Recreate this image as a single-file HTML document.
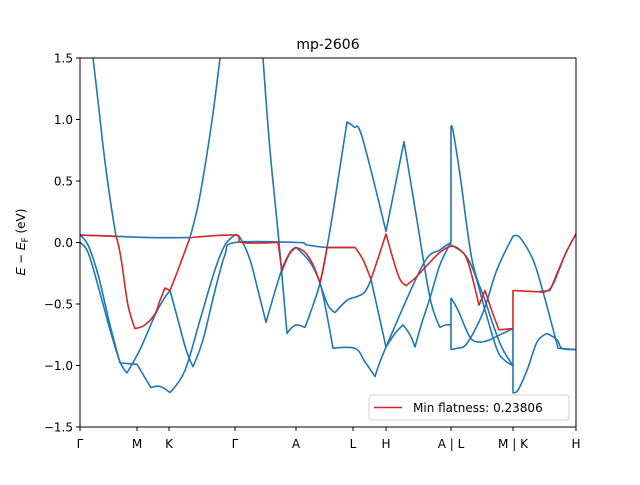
<!DOCTYPE html>
<html><head><meta charset="utf-8"><style>
body{margin:0;background:#fff;}
svg text{font-family:"DejaVu Sans","Liberation Sans",sans-serif;fill:#000;}
</style></head><body>
<svg id="chart" width="640" height="480" xmlns="http://www.w3.org/2000/svg">
<rect width="640" height="480" fill="#fff"/>
<text x="328" y="49" font-size="14" text-anchor="middle">mp-2606</text>
<g id="plot"></g>
<g id="axes"></g>
<text transform="translate(25,242) rotate(-90)" font-size="12" text-anchor="middle">𝐸 − 𝐸<tspan font-size="9" dy="3">F</tspan><tspan dy="-3"> (eV)</tspan></text>
<g>
<rect x="369" y="395" width="200" height="25" rx="3" fill="#fff" stroke="#ccc" stroke-width="1" opacity="0.9"/>
<line x1="374" y1="407.5" x2="402" y2="407.5" stroke="#d62728" stroke-width="1.5"/>
<text x="413" y="412" font-size="12">Min flatness: 0.23806</text>
</g>
</svg>
<script>
const kTicks=[0,57,89,155,216,273,306,371,433,496];
const kLabels=["Γ","M","K","Γ","A","L","H","A | L","M | K","H"];
const eTicks=[-1.5,-1.0,-0.5,0.0,0.5,1.0,1.5];
const eLabels=["−1.5","−1.0","−0.5","0.0","0.5","1.0","1.5"];
const flatBand=[[0,0.06],[36,0.05],[39,-0.04],[42,-0.18],[48,-0.51],[55,-0.70],[65,-0.67],[75,-0.58],[80,-0.47],[85,-0.37],[90,-0.39],[100,-0.18],[110,0.04],[155,0.06],[162,0.00],[198,0.00],[202,-0.23],[209,-0.10],[216,-0.04],[225,-0.08],[233,-0.18],[240,-0.33],[244,-0.18],[247,-0.04],[275,-0.04],[283,-0.14],[291,-0.30],[298,-0.13],[306,0.07],[314,-0.16],[320,-0.30],[326,-0.35],[335,-0.29],[350,-0.16],[360,-0.08],[371,-0.03],[380,-0.06],[388,-0.16],[399,-0.51],[405,-0.39],[412,-0.56],[419,-0.71],[433,-0.70],[433,-0.39],[457,-0.40],[465,-0.40],[473,-0.34],[485,-0.10],[496,0.07]];
const band1=[[0,0.06],[36,0.05]];
const band2=[[13,1.5],[19,1.08],[24,0.72],[30,0.36],[36,0.05]];
const band3=[[36,0.05],[70,0.04],[110,0.04]];
const band4=[[110,0.04],[118,0.3],[125,0.62],[133,1.05],[140,1.5]];
const band5=[[0,0.06],[8,-0.02],[18,-0.26],[30,-0.67],[40,-0.98],[57,-0.99],[65,-1.10],[71,-1.18],[80,-1.17],[90,-1.22],[105,-1.04],[120,-0.63],[135,-0.22],[145,-0.02],[155,0.06],[160,0.04],[170,-0.14],[178,-0.39],[186,-0.65],[201,-0.24],[210,-0.08],[216,-0.04]];
const band6=[[0,0],[8,-0.08],[18,-0.35],[30,-0.71],[40,-0.97],[47,-1.06],[60,-0.87],[75,-0.59],[83,-0.47],[90,-0.39],[98,-0.63],[106,-0.87],[113,-1.01],[123,-0.79],[135,-0.39],[145,-0.10],[155,0],[218,0],[227,-0.02],[247,-0.04],[275,-0.04]];
const band7=[[183,1.5],[190,0.75],[199,0],[207,-0.74],[212,-0.69],[217,-0.67],[225,-0.69],[233,-0.51],[240,-0.33],[247,-0.04],[255,0.35],[267,0.98],[274,0.94],[282,0.86],[306,0.09],[324,0.82],[337,0.18],[350,-0.45],[360,-0.69],[366,-0.67],[371,-0.67]];
const band8=[[216,-0.04],[230,-0.16],[240,-0.33],[246,-0.55],[253,-0.86],[275,-0.86],[285,-0.97],[295,-1.09],[306,-0.85],[343,-0.18],[360,-0.06],[371,0]];
const band9=[[240,-0.33],[248,-0.51],[255,-0.57],[267,-0.47],[277,-0.44],[285,-0.40],[291,-0.30],[306,-0.85],[315,-0.74],[323,-0.67],[330,-0.75],[335,-0.85],[342,-0.65],[350,-0.45],[360,-0.18],[371,0]];
const band10=[[371,0],[371,0.94],[373,0.91],[380,0.55],[392,-0.14],[405,-0.47],[420,-0.82],[433,-1.0]];
const band11=[[371,-0.45],[371,-0.87],[377,-0.86],[387,-0.82],[403,-0.57],[417,-0.22],[433,0.05],[440,0.04],[453,-0.14],[463,-0.40],[478,-0.86],[495,-0.87],[496,-0.87]];
const band12=[[371,-0.45],[378,-0.55],[390,-0.77],[400,-0.81],[410,-0.79],[420,-0.75],[433,-0.70],[433,-1.22],[438,-1.20],[447,-1.04],[457,-0.81],[467,-0.74],[477,-0.79],[482,-0.86],[496,-0.87]];
const band13=[[371,-0.02],[385,-0.10],[395,-0.26],[405,-0.55],[417,-0.87],[425,-0.96],[433,-1.0]];
const band14=[[458,-0.40],[470,-0.39],[485,-0.10],[496,0.07]];
const blueBands=[band1,band2,band3,band4,band5,band6,band7,band8,band9,band10,band11,band12,band13,band14];

const X0=80,X1=576,Y0=58,Y1=427,kMax=496,eMin=-1.5,eMax=1.5;
function xs(k){return X0+(k/kMax)*(X1-X0);}
function ys(e){return Y1-(e-eMin)/(eMax-eMin)*(Y1-Y0);}
const NS="http://www.w3.org/2000/svg";
const plot=document.getElementById('plot');
const axes=document.getElementById('axes');
const defs=document.createElementNS(NS,'defs');
defs.innerHTML='<clipPath id="clip"><rect x="80" y="58" width="496" height="369"/></clipPath>';
document.getElementById('chart').prepend(defs);
plot.setAttribute('clip-path','url(#clip)');
function isCorner(p0,p1,p2){
  const ax=p1[0]-p0[0],ay=p1[1]-p0[1],bx=p2[0]-p1[0],by=p2[1]-p1[1];
  const la=Math.hypot(ax,ay),lb=Math.hypot(bx,by);
  if(!la||!lb)return true;
  return (ax*bx+ay*by)/(la*lb)<Math.cos(55*Math.PI/180);
}
function tangent(pts,i){
  const p1=pts[i];
  if(i===0||i===pts.length-1)return [0,0];
  const p0=pts[i-1],p2=pts[i+1];
  if(isCorner(p0,p1,p2))return [0,0];
  return [(p2[0]-p0[0])/2,(p2[1]-p0[1])/2];
}
function smoothPiece(pts){
  let d='';
  const T=pts.map((p,i)=>tangent(pts,i));
  for(let i=0;i<pts.length-1;i++){
    const p1=pts[i],p2=pts[i+1];
    const c1=[p1[0]+T[i][0]/3,p1[1]+T[i][1]/3];
    const c2=[p2[0]-T[i+1][0]/3,p2[1]-T[i+1][1]/3];
    d+=' C'+c1[0].toFixed(1)+','+c1[1].toFixed(1)+' '+c2[0].toFixed(1)+','+c2[1].toFixed(1)+' '+p2[0].toFixed(1)+','+p2[1].toFixed(1);
  }
  return d;
}
function pathOf(b){
  const pts=b.map(p=>[xs(p[0]),ys(p[1])]);
  const pieces=[];let cur=[pts[0]];
  for(let i=1;i<pts.length;i++){
    if(Math.abs(pts[i][0]-pts[i-1][0])<0.01){pieces.push(cur);pieces.push([pts[i-1],pts[i]]);cur=[pts[i]];}
    else cur.push(pts[i]);
  }
  pieces.push(cur);
  let d='M'+pts[0][0].toFixed(1)+','+pts[0][1].toFixed(1);
  pieces.forEach(pc=>{if(pc.length>1)d+=smoothPiece(pc);});
  return d;
}
blueBands.forEach((b,i)=>{
  const p=document.createElementNS(NS,'path');
  p.setAttribute('d',pathOf(b));
  p.setAttribute('fill','none');p.setAttribute('stroke','#1f77b4');p.setAttribute('stroke-width','1.6');p.setAttribute('stroke-linejoin','round');
  
  
  plot.appendChild(p);
});
const fp=document.createElementNS(NS,'path');
fp.setAttribute('d',pathOf(flatBand));
fp.setAttribute('fill','none');fp.setAttribute('stroke','#d62728');fp.setAttribute('stroke-width','1.6');fp.setAttribute('stroke-linejoin','round');


plot.appendChild(fp);
const fr=document.createElementNS(NS,'rect');
fr.setAttribute('x',X0);fr.setAttribute('y',Y0);fr.setAttribute('width',X1-X0);fr.setAttribute('height',Y1-Y0);
fr.setAttribute('fill','none');fr.setAttribute('stroke','#000');fr.setAttribute('stroke-width','1');


axes.appendChild(fr);
kTicks.forEach((k,i)=>{
  const x=xs(k);
  const t=document.createElementNS(NS,'line');
  t.setAttribute('x1',x);t.setAttribute('x2',x);t.setAttribute('y1',Y1);t.setAttribute('y2',Y1+4);t.setAttribute('stroke','#000');
  
  
  axes.appendChild(t);
  const l=document.createElementNS(NS,'text');
  l.setAttribute('x',x);l.setAttribute('y',448);l.setAttribute('font-size','12');l.setAttribute('text-anchor','middle');
  l.textContent=kLabels[i];
  
  
  axes.appendChild(l);
});
eTicks.forEach((e,i)=>{
  const y=ys(e);
  const t=document.createElementNS(NS,'line');
  t.setAttribute('x1',X0-4);t.setAttribute('x2',X0);t.setAttribute('y1',y);t.setAttribute('y2',y);t.setAttribute('stroke','#000');
  
  
  axes.appendChild(t);
  const l=document.createElementNS(NS,'text');
  l.setAttribute('x',X0-7);l.setAttribute('y',y+4.5);l.setAttribute('font-size','12');l.setAttribute('text-anchor','end');
  l.textContent=eLabels[i];
  
  
  axes.appendChild(l);
});
</script>
</body></html>
